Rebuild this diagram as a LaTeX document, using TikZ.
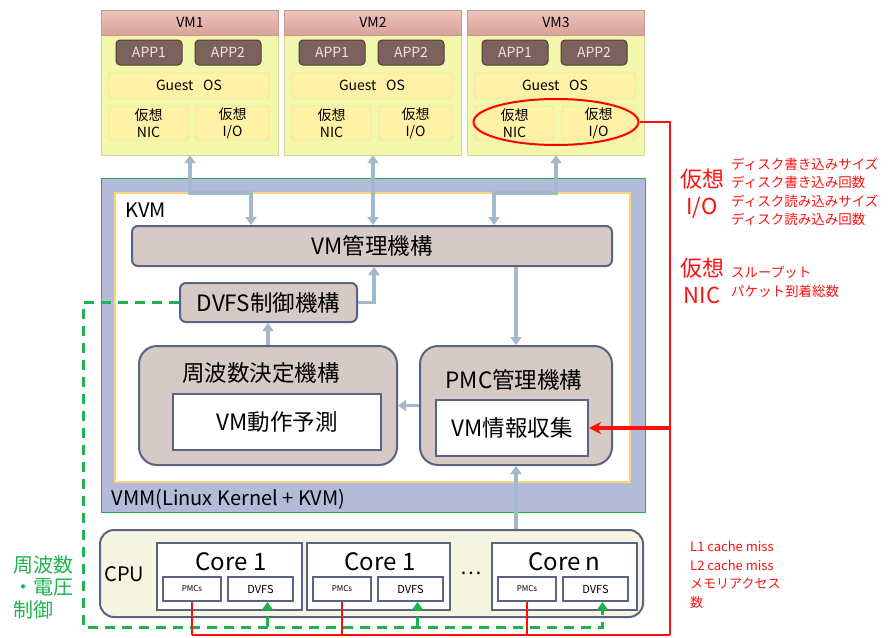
\documentclass[tikz,border=0pt]{standalone}
\usepackage{fontspec}
\setmainfont{Noto Sans CJK JP}
\usepackage{tikz}
\usetikzlibrary{shapes.geometric, arrows.meta}
\definecolor{headtop}{HTML}{EEC4BC}
\definecolor{headbot}{HTML}{D9A199}
\definecolor{headedge}{HTML}{C49A95}
\definecolor{vmbody}{HTML}{F3F7AC}
\definecolor{vmedge}{HTML}{D2D49A}
\definecolor{appfill}{HTML}{7C625D}
\definecolor{appedge}{HTML}{4F3D39}
\definecolor{apptext}{HTML}{EFE2DE}
\definecolor{guestfill}{HTML}{FFF1A6}
\definecolor{guestedge}{HTML}{EFD58A}
\definecolor{vmmfill}{HTML}{B4BBD9}
\definecolor{vmmedge}{HTML}{1FB24A}
\definecolor{kvmedge}{HTML}{F9D67C}
\definecolor{modfill}{HTML}{D5CAC6}
\definecolor{modedge}{HTML}{5B6384}
\definecolor{cpufill}{HTML}{F5F5E1}
\definecolor{linkblue}{HTML}{A3B9CB}
\definecolor{ctrlgreen}{HTML}{1DB34D}
\definecolor{pmcred}{HTML}{FF1010}

\begin{document}
\begin{tikzpicture}[x=1pt,y=-1pt,>={Triangle[width=11pt,length=8pt]}]

  \tikzstyle{vmbox}=[draw=vmedge, fill=vmbody, minimum width=177pt, minimum height=145pt, inner sep=0pt]
  \tikzstyle{vmtitle}=[draw=headedge, top color=headtop, bottom color=headbot, minimum width=177pt, minimum height=25pt, inner sep=0pt, font=\fontsize{14}{15}\selectfont]
  \tikzstyle{app}=[draw=appedge, line width=1pt, fill=appfill, text=apptext, rounded corners=4pt, minimum width=66pt, minimum height=25pt, inner sep=0pt, font=\fontsize{14}{15}\selectfont]
  \tikzstyle{guest}=[draw=guestedge, fill=guestfill, rounded corners=3pt, minimum height=25pt, inner sep=0pt, font=\fontsize{14}{15}\selectfont]
  \tikzstyle{virt}=[guest, minimum height=34pt, align=center, font=\fontsize{14}{17}\selectfont]
  \tikzstyle{module}=[draw=modedge, line width=2pt, fill=modfill, rounded corners=6pt, inner sep=0pt, font=\fontsize{22.5}{24}\selectfont]
  \tikzstyle{innerbox}=[draw=modedge, line width=2pt, fill=white, inner sep=0pt, font=\fontsize{22.5}{24}\selectfont]
  \tikzstyle{core}=[draw=modedge, line width=2pt, fill=white, minimum height=67pt, inner sep=0pt]
  \tikzstyle{part}=[draw=modedge, line width=2pt, fill=white, minimum height=24pt, inner sep=0pt]
  \tikzstyle{big}=[font=\fontsize{20}{22}\selectfont]
  \tikzstyle{link}=[draw=linkblue, line width=3.5pt]
  \tikzstyle{ctrl}=[draw=ctrlgreen, line width=3pt, dash pattern=on 10pt off 7pt]
  \tikzstyle{pmcline}=[draw=pmcred, line width=2.5pt]
  \tikzstyle{rednote}=[text=pmcred, align=left, inner sep=0pt, font=\fontsize{13.5}{18.5}\selectfont]
  \tikzstyle{redbig}=[text=pmcred, align=center, inner sep=0pt, font=\fontsize{22}{27}\selectfont]

  \useasboundingbox (0,0) rectangle (888,637);

  % virtual machines
  \node[vmbox] (vm1) at (190,82.5) {};
  \node[vmtitle] (vm1h) at (190,22.5) {VM1};
  \node[app] (vm1a1) at (149,52.5) {APP1};
  \node[app] (vm1a2) at (228,52.5) {APP2};
  \node[guest, minimum width=161pt] (vm1os) at (189,85.5) {Guest\hspace{0.7em}OS};
  \node[virt, minimum width=79pt] (vm1nic) at (148.5,123) {仮想\\NIC};
  \node[virt, minimum width=73pt] (vm1io) at (232.5,123) {仮想\\I/O};

  \node[vmbox] (vm2) at (373,82.5) {};
  \node[vmtitle] (vm2h) at (373,22.5) {VM2};
  \node[app] (vm2a1) at (332,52.5) {APP1};
  \node[app] (vm2a2) at (411,52.5) {APP2};
  \node[guest, minimum width=161pt] (vm2os) at (372,85.5) {Guest\hspace{0.7em}OS};
  \node[virt, minimum width=79pt] (vm2nic) at (331.5,123) {仮想\\NIC};
  \node[virt, minimum width=73pt] (vm2io) at (415.5,123) {仮想\\I/O};

  \node[vmbox] (vm3) at (556,82.5) {};
  \node[vmtitle] (vm3h) at (556,22.5) {VM3};
  \node[app] (vm3a1) at (515,52.5) {APP1};
  \node[app] (vm3a2) at (594,52.5) {APP2};
  \node[guest, minimum width=161pt] (vm3os) at (555,85.5) {Guest\hspace{0.7em}OS};
  \node[virt, minimum width=79pt] (vm3nic) at (514.5,123) {仮想\\NIC};
  \node[virt, minimum width=73pt] (vm3io) at (598.5,123) {仮想\\I/O};
  \node[draw=red, line width=2pt, ellipse, minimum width=165pt, minimum height=46pt] (sel) at (556,122) {};

  % VMM and KVM
  \node[draw=vmmedge, line width=1pt, fill=vmmfill, minimum width=544pt, minimum height=334pt, inner sep=0pt] (vmm) at (373,345) {};
  \node[draw=kvmedge, line width=2pt, fill=white, minimum width=515pt, minimum height=289pt, inner sep=0pt] (kvm) at (372.5,337.5) {};
  \node[big, anchor=west] (kvmlabel) at (122,210) {KVM};
  \node[big, anchor=west] (vmmlabel) at (108,499) {VMM(Linux Kernel + KVM)};

  \node[module, minimum width=480pt, minimum height=40pt] (mgr) at (372,246) {VM管理機構};
  \node[module, minimum width=177pt, minimum height=39pt] (dvfsctl) at (268.5,302.5) {DVFS制御機構};
  \node[module, rounded corners=18pt, minimum width=258pt, minimum height=119pt] (freq) at (268,405.5) {};
  \node[font=\fontsize{22.5}{24}\selectfont] (freqt) at (261,373) {周波数決定機構};
  \node[innerbox, minimum width=208pt, minimum height=56pt] (pred) at (277,422) {VM動作予測};
  \node[module, rounded corners=18pt, minimum width=192pt, minimum height=119pt] (pmcmgr) at (516,405.5) {};
  \node[font=\fontsize{22.5}{24}\selectfont] (pmct) at (514,380) {PMC管理機構};
  \node[innerbox, minimum width=152pt, minimum height=56pt] (info) at (512,428) {VM情報収集};

  % CPU
  \node[draw=modedge, line width=2pt, fill=cpufill, rounded corners=14pt, minimum width=543pt, minimum height=87pt, inner sep=0pt] (cpu) at (371.5,573.5) {};
  \node[anchor=west, font=\fontsize{20}{22}\selectfont] (cpul) at (101,574) {CPU};
  \node[core, minimum width=145pt] (core1) at (229.5,576.5) {};
  \node[core, minimum width=143pt] (core2) at (378.5,576.5) {};
  \node[core, minimum width=145pt] (core3) at (564.5,576.5) {};
  \node[font=\fontsize{24}{25}\selectfont] (core1t) at (231,562) {Core 1};
  \node[font=\fontsize{24}{25}\selectfont] (core2t) at (380,562) {Core 1};
  \node[font=\fontsize{24}{25}\selectfont] (core3t) at (564.5,562) {Core n};
  \node[big] (dots) at (471,573) {…};
  \node[part, minimum width=58pt, font=\fontsize{8}{9}\selectfont] (pmc1) at (192,589) {PMCs};
  \node[part, minimum width=65pt, font=\fontsize{11}{12}\selectfont] (dvfs1) at (260.5,589) {DVFS};
  \node[part, minimum width=58pt, font=\fontsize{8}{9}\selectfont] (pmc2) at (342,589) {PMCs};
  \node[part, minimum width=65pt, font=\fontsize{11}{12}\selectfont] (dvfs2) at (410.5,589) {DVFS};
  \node[part, minimum width=58pt, font=\fontsize{8}{9}\selectfont] (pmc3) at (527,589) {PMCs};
  \node[part, minimum width=65pt, font=\fontsize{11}{12}\selectfont] (dvfs3) at (595.5,589) {DVFS};

  % VM <-> VM manager
  \coordinate (k1) at (251,193);
  \coordinate (k3) at (494,193);
  \draw[link, <->] (vm1.south) |- (k1) -- (k1 |- mgr.north);
  \draw[link, <->] (vm2.south) -- (vm2.south |- mgr.north);
  \draw[link, <->] (vm3.south) |- (k3) -- (k3 |- mgr.north);

  % inside KVM
  \coordinate (k4) at (374,302.5);
  \draw[link, ->] (dvfsctl.east) -- (k4) -- (k4 |- mgr.south);
  \draw[link, ->] (freq.north) -- (freq.north |- dvfsctl.south);
  \draw[link, ->] (pmcmgr.north |- mgr.south) -- (pmcmgr.north);
  \draw[link, ->] (pmcmgr.west) -- (freq.east);
  \draw[link, ->] (pmcmgr.south |- cpu.north) -- (pmcmgr.south);

  % frequency / voltage control
  \coordinate (gl) at (83,302.5);
  \coordinate (gb) at (83,627);
  \draw[ctrl, ->] (dvfsctl.west) -- (gl) -- (gb) -| ([xshift=7pt]dvfs3.south);
  \draw[ctrl, ->] ([xshift=7pt]dvfs1.south |- gb) -- ([xshift=7pt]dvfs1.south);
  \draw[ctrl, ->] ([xshift=7pt]dvfs2.south |- gb) -- ([xshift=7pt]dvfs2.south);
  \node[text=ctrlgreen, align=left, anchor=west, inner sep=0pt, font=\fontsize{20}{22.5}\selectfont] (gnote) at (13,587) {周波数\\・電圧\\制御};

  % PMC data
  \coordinate (rc) at (670,635);
  \draw[pmcline] (sel.east) -| (rc);
  \draw[pmcline, line width=1.2pt] (rc) -- (pmc1.south |- rc);
  \draw[pmcline] (pmc1.south) -- (pmc1.south |- rc);
  \draw[pmcline] (pmc2.south) -- (pmc2.south |- rc);
  \draw[pmcline] (pmc3.south) -- (pmc3.south |- rc);
  \draw[pmcline, line width=3.5pt, -{Stealth[length=12pt,width=12pt]}] (rc |- info.east) -- (info.east);

  \node[redbig] (vio) at (702,194) {仮想\\I/O};
  \node[rednote, anchor=west] (vioitems) at (731,192) {ディスク書き込みサイズ\\ディスク書き込み回数\\ディスク読み込みサイズ\\ディスク読み込み回数};
  \node[redbig] (vnic) at (702,281) {仮想\\NIC};
  \node[rednote, anchor=west] (vnicitems) at (731,282) {スループット\\パケット到着総数};
  \node[rednote, anchor=west, font=\fontsize{13}{18.5}\selectfont] (pmcitems) at (690,575) {L1 cache miss\\L2 cache miss\\メモリアクセス\\数};

\end{tikzpicture}
\end{document}
